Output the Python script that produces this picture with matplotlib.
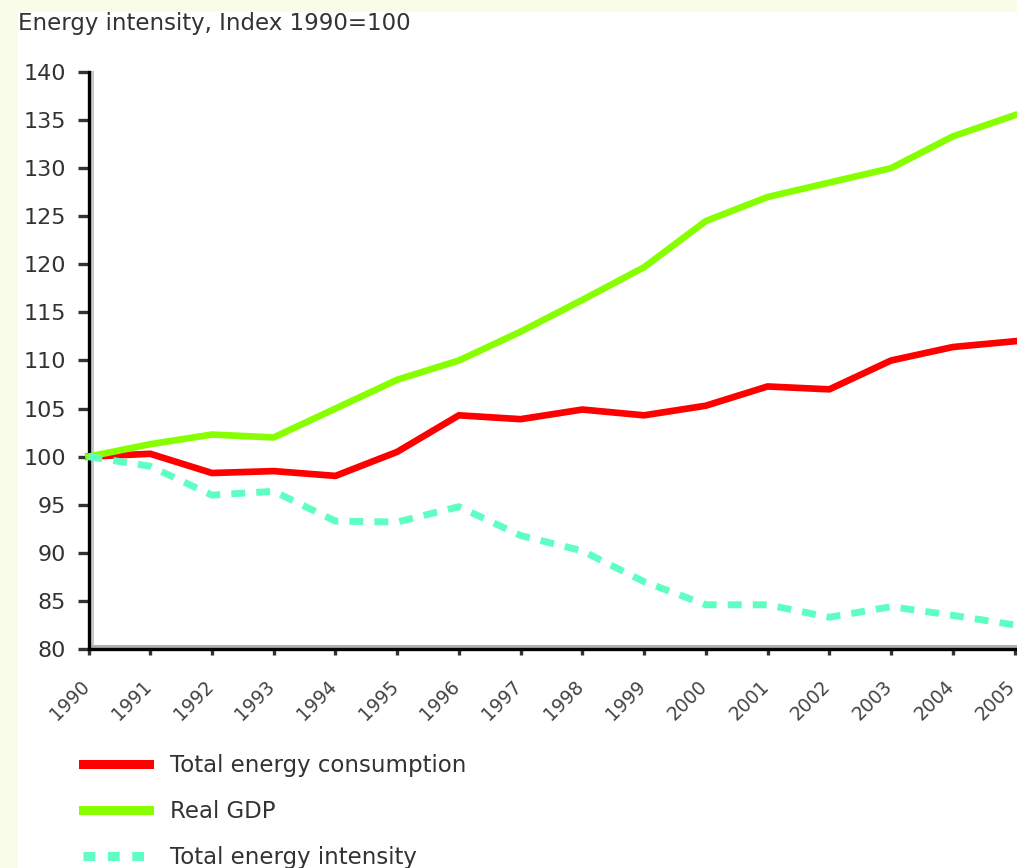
import matplotlib
matplotlib.use("Agg")
import matplotlib.pyplot as plt
from matplotlib.transforms import ScaledTranslation
from matplotlib.patches import Rectangle
from matplotlib.lines import Line2D

years = list(range(1990, 2006))
year_labels = [str(y) for y in years]
consumption = [100, 100.3, 98.3, 98.5, 98.0, 100.5, 104.3, 103.9, 104.9, 104.3,
               105.3, 107.3, 107.0, 110.0, 111.4, 112.0]
gdp = [100, 101.3, 102.3, 102.0, 105.0, 108.0, 110.0, 113.0, 116.3, 119.7,
       124.5, 127.0, 128.5, 130.0, 133.3, 135.5]
intensity = [100, 99.0, 96.0, 96.4, 93.3, 93.2, 94.8, 91.8, 90.2, 87.0,
             84.6, 84.6, 83.3, 84.4, 83.5, 82.5]
series_names = ["Total energy consumption", "Real GDP", "Total energy intensity"]
title = "Energy intensity, Index 1990=100"

W, H = 1017, 868
fig = plt.figure(figsize=(W / 100, H / 100), dpi=100)
fig.patch.set_facecolor("#F9FCE8")
bg = Rectangle((18 / W, 0), 1 - 18 / W, 1 - 12 / H, transform=fig.transFigure,
               facecolor="white", edgecolor="none", zorder=-10)
fig.add_artist(bg)

x0, x1 = 88.5, 1014.5
y0, y1 = 649, 72
ax = fig.add_axes([x0 / W, 1 - y0 / H, (x1 - x0) / W, (y0 - y1) / H])
ax.set_facecolor("none")
ax.set_zorder(1)

l1, = ax.plot(years, consumption, color="#FF0000", lw=4.8, solid_joinstyle="round",
              label=series_names[0], clip_on=False, zorder=3)
l2, = ax.plot(years, gdp, color="#88FF00", lw=4.8, solid_joinstyle="round",
              label=series_names[1], clip_on=False, zorder=3)
l3, = ax.plot(years, intensity, color="#5FFFC4", lw=5.0, dashes=(2.0, 1.6),
              dash_capstyle="butt", label=series_names[2], clip_on=False, zorder=3)

ax.set_xlim(1990, 2005)
ax.set_ylim(80, 140)
ax.set_yticks(range(80, 141, 5))
ax.set_xticks(years)
ax.set_xticklabels(year_labels, rotation=45, ha="right", va="top")

for s in ["top", "right"]:
    ax.spines[s].set_visible(False)
for s in ["left", "bottom"]:
    ax.spines[s].set_color("black")
    ax.spines[s].set_linewidth(2.4)
    ax.spines[s].set_zorder(2)

# grey shadow lines next to axes
shadow_v = Line2D([0, 0], [0, 1], transform=ax.transAxes + ScaledTranslation(3 / 100, 0, fig.dpi_scale_trans),
                  color="#C8C8C8", lw=2.2, zorder=1, clip_on=False)
shadow_h = Line2D([0, 1], [0, 0], transform=ax.transAxes + ScaledTranslation(0, 3 / 100, fig.dpi_scale_trans),
                  color="#B0B0B0", lw=2.2, zorder=1, clip_on=False)
ax.add_line(shadow_v)
ax.add_line(shadow_h)

ax.tick_params(axis="y", direction="out", length=8, width=2.4, color="#333333",
               labelsize=16, labelcolor="#333333", pad=8)
ax.tick_params(axis="x", direction="out", length=4, width=2.4, color="#333333",
               labelsize=13.5, labelcolor="#444444", pad=16)
for lab in ax.get_xticklabels():
    lab.set_transform(lab.get_transform() + ScaledTranslation(5 / 100, 0, fig.dpi_scale_trans))

fig.text(18 / W, 1 - 12 / H, title, ha="left", va="top", fontsize=16.5, color="#333333")

leg = fig.legend(handles=[l1, l2, l3], labels=series_names, loc="upper left",
                 bbox_to_anchor=(83 / W, 1 - 754 / H), frameon=False, fontsize=16.5,
                 handlelength=2.9, handletextpad=0.9, labelspacing=1.0, borderpad=0,
                 borderaxespad=0)
for t in leg.get_texts():
    t.set_color("#333333")
for ln in leg.get_lines():
    ln.set_linewidth(6.5)
leg.get_lines()[2].set_dashes((1.3, 1.4))

fig.savefig("out.png", dpi=100, facecolor=fig.get_facecolor())
